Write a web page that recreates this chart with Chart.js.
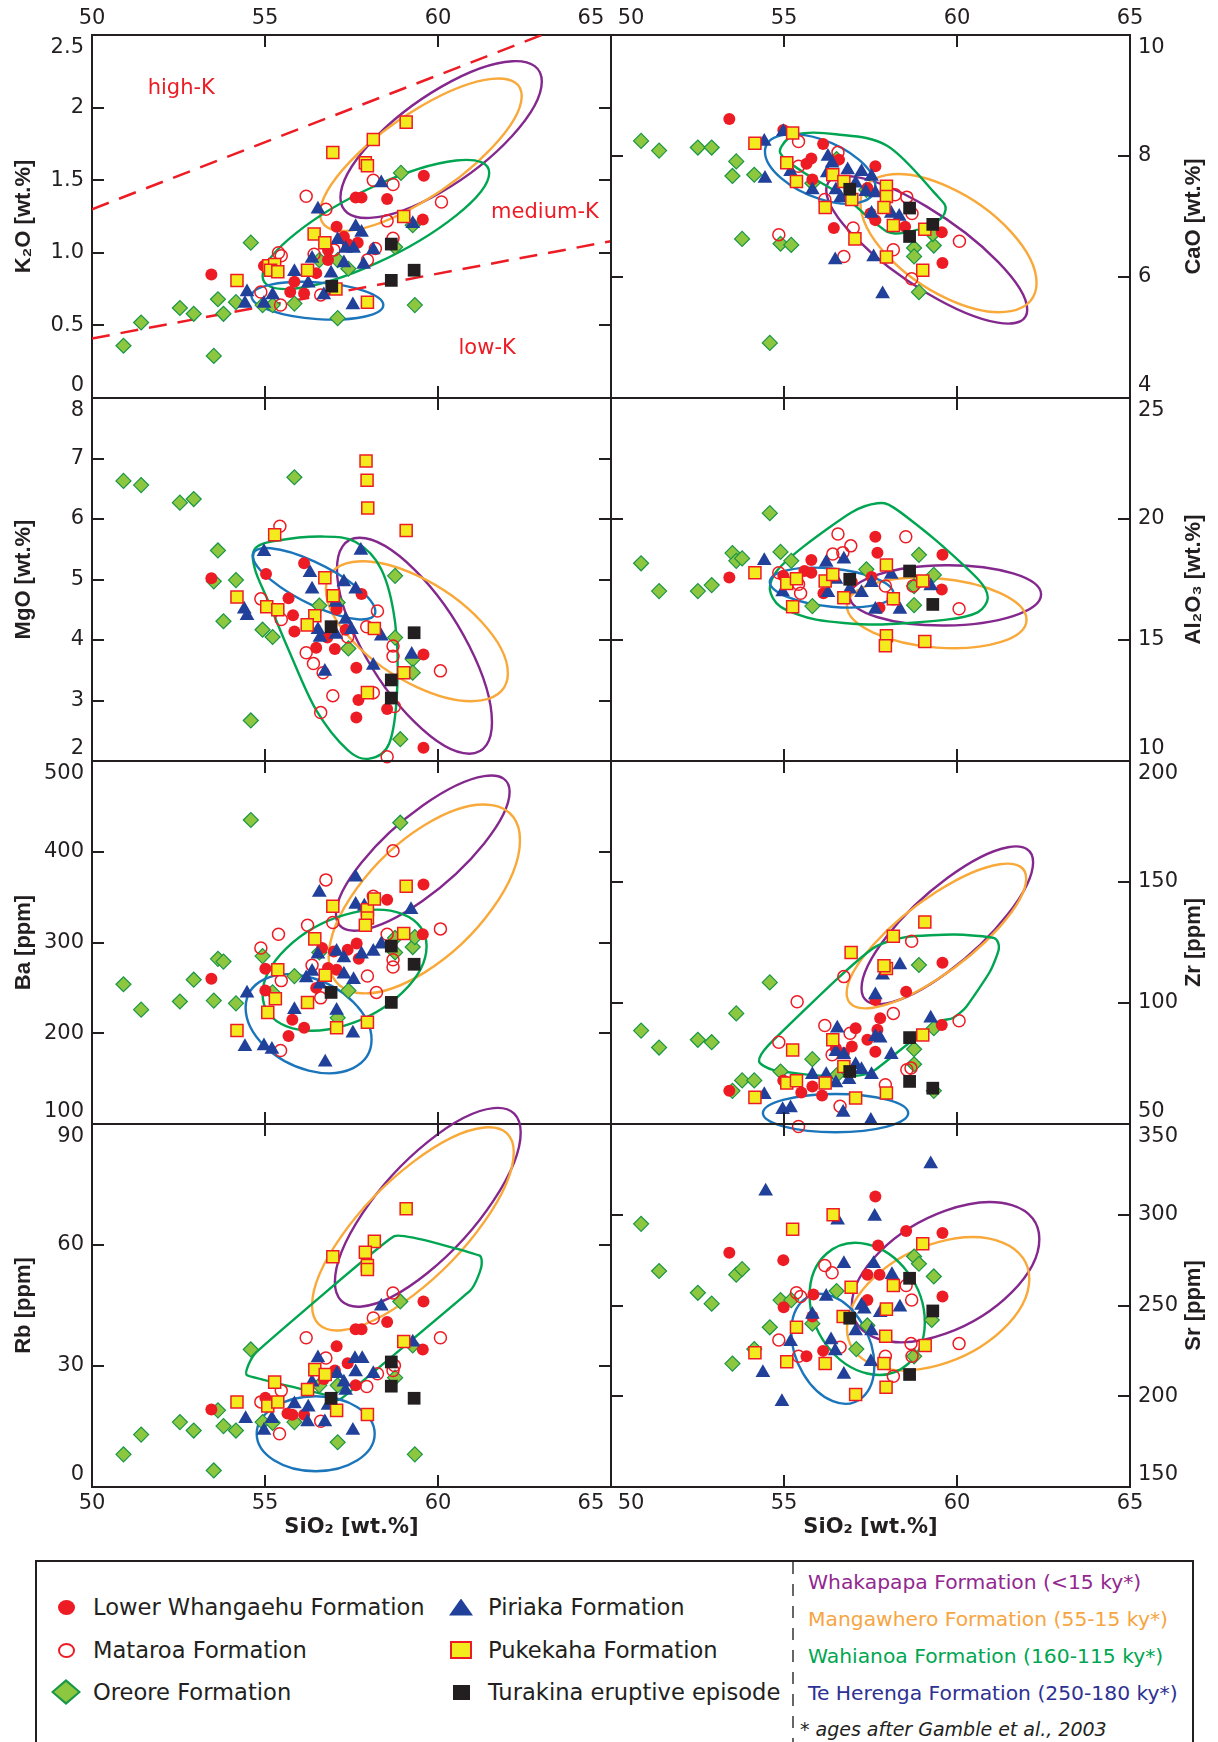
<!DOCTYPE html>
<html lang="en">
<head>
<meta charset="utf-8">
<title>SiO2 variation diagrams</title>
<script src="https://cdn.jsdelivr.net/npm/chart.js@4.4.1/dist/chart.umd.min.js"></script>
<style>
  html, body { margin: 0; padding: 0; background: #fff; overflow: hidden; }
  #figure { position: relative; width: 1218px; height: 1742px; }
  #figure canvas { position: absolute; }
  #legend { position: absolute; left: 35px; top: 1560px; width: 1159px; height: 200px; box-sizing: border-box;
            border: 2px solid #231f20; font-family: 'DejaVu Sans', sans-serif; color: #231f20; }
  .item { position: absolute; display: flex; align-items: center; height: 30px; font-size: 22.6px; white-space: nowrap; }
  .slot { width: 40px; height: 30px; display: flex; align-items: center; justify-content: center; margin-right: 7px; }
  .field { position: absolute; left: 771px; font-size: 20.3px; line-height: 24px; white-space: nowrap; }
  .note { position: absolute; left: 763px; top: 156px; font-size: 19px; font-style: italic; white-space: nowrap; }
  .sep { position: absolute; left: 755px; top: 0; width: 1.5px; height: 100%;
         background: repeating-linear-gradient(to bottom, #666 0 12px, transparent 12px 22px); }
  .dot { width: 17px; height: 15px; border-radius: 50%; background: #ed1c24; }
  .ring { width: 17px; height: 15px; border-radius: 50%; border: 2px solid #ed1c24; box-sizing: border-box; background: #fff; }
  .dia { width: 30px; height: 26px; background: #1a9648; clip-path: polygon(50% 0, 100% 50%, 50% 100%, 0 50%); position: relative; }
  .dia::after { content: ''; position: absolute; left: 3px; top: 3px; right: 3px; bottom: 3px; background: #8dc63f;
                clip-path: polygon(50% 0, 100% 50%, 50% 100%, 0 50%); }
  .tri { width: 24px; height: 17px; background: #21409a; clip-path: polygon(50% 0, 100% 100%, 0 100%); }
  .sq { width: 22px; height: 18px; background: #f4eb1e; border: 2px solid #ed1c24; box-sizing: border-box; }
  .blk { width: 17px; height: 15px; background: #231f20; }
</style>
</head>
<body>
<div id="figure">
  <div id="legend"><div class="sep"></div></div>
</div>
<script>
// Series and outline names
var formations = ['Lower Whangaehu Formation', 'Mataroa Formation', 'Oreore Formation',
                  'Piriaka Formation', 'Pukekaha Formation', 'Turakina eruptive episode'];
var fieldNames = ['Whakapapa Formation (<15 ky*)', 'Mangawhero Formation (55-15 ky*)',
                  'Wahianoa Formation (160-115 ky*)', 'Te Herenga Formation (250-180 ky*)'];
var kZoneNames = ['high-K', 'medium-K', 'low-K'];

// Tick labels
var sio2Ticks = ['50', '55', '60', '65'];
var k2oTicks = ['0', '0.5', '1.0', '1.5', '2', '2.5'];
var caoTicks = ['4', '6', '8', '10'];
var mgoTicks = ['2', '3', '4', '5', '6', '7', '8'];
var alTicks = ['10', '15', '20', '25'];
var baTicks = ['100', '200', '300', '400', '500'];
var zrTicks = ['50', '100', '150', '200'];
var rbTicks = ['0', '30', '60', '90'];
var srTicks = ['150', '200', '250', '300', '350'];

// K2O vs SiO2
var k2oWhangaehu = [[53.45,0.85],[54.97,0.91],[55.73,0.73],[55.85,0.80],[56.13,0.72],[56.48,0.86],[56.82,1.02],[56.82,0.95],[57.07,1.18],[57.28,1.11],[57.39,1.06],[57.68,1.07],[57.62,1.38],[57.79,1.38],[58.53,1.37],[59.59,1.53],[59.56,1.23]];
var k2oMataroa = [[56.19,1.39],[56.76,1.30],[58.13,1.50],[58.70,1.47],[60.10,1.35],[58.53,1.22],[58.70,1.10],[58.19,1.03],[57.96,0.95],[56.99,1.02],[56.42,0.99],[55.39,1.00],[55.47,0.98],[54.88,0.73],[55.45,0.64],[56.61,0.71]];
var k2oOreore = [[50.91,0.36],[51.42,0.52],[52.54,0.62],[52.94,0.58],[53.52,0.29],[53.64,0.68],[53.80,0.58],[54.16,0.66],[54.59,1.07],[54.93,0.64],[55.22,0.64],[55.85,0.65],[56.57,0.95],[57.10,0.95],[57.41,0.89],[57.10,0.55],[58.93,1.55],[58.76,1.04],[59.27,1.19],[59.33,0.64]];
var k2oPiriaka = [[56.53,1.30],[58.36,1.48],[59.27,1.20],[57.62,1.18],[57.79,1.14],[57.10,1.09],[57.33,1.03],[57.56,1.03],[58.13,1.02],[56.36,0.96],[57.28,0.93],[57.85,0.92],[55.85,0.87],[56.91,0.86],[56.25,0.79],[54.48,0.73],[55.22,0.71],[54.42,0.65],[54.97,0.65],[56.70,0.71],[57.54,0.64]];
var k2oPukekaha = [[59.08,1.90],[58.13,1.78],[56.96,1.69],[57.90,1.62],[57.96,1.60],[59.01,1.25],[56.42,1.13],[56.73,1.07],[56.23,0.88],[55.11,0.91],[55.28,0.92],[55.16,0.88],[55.37,0.87],[54.19,0.81],[57.05,0.75],[57.96,0.66]];
var k2oTurakina = [[58.65,1.06],[58.65,0.81],[59.31,0.88],[56.93,0.77]];
// outlines: ellipse = [leftmost x, y, rightmost x, y, top y]; other = list of vertices
var k2oFields = [[57.18,1.38,63.00,2.18,2.32], [56.59,1.27,62.42,2.08,2.20], [54.93,0.84,61.48,1.55,1.64], [54.61,0.70,58.42,0.64,0.80]];
var kBoundaryHigh = [[50, 1.30], [63.0, 2.5]];
var kBoundaryLow = [[50, 0.41], [65, 1.08]];

// CaO vs SiO2
var caoWhangaehu = [[53.42,8.61],[54.98,8.43],[56.13,8.20],[55.79,7.96],[55.65,7.87],[57.64,7.83],[56.59,7.94],[55.82,7.61],[57.41,7.47],[56.44,6.81],[57.64,6.94],[58.50,6.83],[59.56,6.74],[59.58,6.23],[57.50,7.05]];
var caoMataroa = [[55.42,8.24],[56.56,8.06],[55.42,7.83],[56.18,7.28],[58.21,7.36],[58.55,7.32],[58.70,7.05],[57.00,6.81],[54.85,6.70],[58.16,6.45],[56.73,6.34],[60.07,6.59],[58.69,5.97]];
var caoOreore = [[50.87,8.25],[51.39,8.09],[52.51,8.14],[52.91,8.14],[53.62,7.91],[53.51,7.67],[54.14,7.69],[55.82,7.55],[56.52,7.95],[53.79,6.63],[54.90,6.55],[55.21,6.53],[54.59,4.91],[57.38,7.44],[58.76,6.48],[58.76,6.34],[59.33,6.52],[59.30,6.71],[58.90,5.75]];
var caoPiriaka = [[54.43,8.24],[54.98,8.40],[54.45,7.63],[56.27,7.99],[56.39,7.88],[56.25,7.72],[56.84,7.77],[57.24,7.74],[57.53,7.66],[55.19,7.74],[55.82,7.44],[56.50,7.44],[56.64,7.31],[57.07,7.55],[57.64,7.39],[57.53,7.05],[58.10,7.05],[58.33,7.00],[57.36,7.41],[56.48,6.28],[57.59,6.33],[57.85,5.72]];
var caoPukekaha = [[54.16,8.21],[55.25,8.38],[55.08,7.89],[55.36,7.58],[56.41,7.69],[56.73,7.58],[56.96,7.28],[56.19,7.15],[57.96,7.50],[57.96,7.33],[57.89,7.15],[58.16,6.85],[59.07,6.79],[57.05,6.63],[57.96,6.33],[59.01,6.11]];
var caoTurakina = [[56.90,7.45],[58.63,7.14],[59.30,6.87],[58.63,6.67]];
var caoFields = [[56.22,7.44,62.03,5.46,7.67], [57.21,7.22,62.30,5.90,7.70],
  [[54.93,8.16],[55.36,8.36],[56.50,8.36],[57.98,8.17],[59.35,7.39],[59.67,7.11],[59.24,6.86],[58.21,6.72],[57.64,6.89],[56.73,7.33],[55.59,7.72],[54.96,7.99]],
  [54.45,8.07,57.64,7.50,8.36]];

// MgO vs SiO2
var mgoWhangaehu = [[53.45,5.02],[55.03,5.09],[56.13,5.27],[55.68,4.69],[55.81,4.41],[55.85,4.14],[57.07,4.51],[57.79,4.76],[56.48,3.87],[57.02,3.85],[56.80,4.04],[57.33,4.17],[57.64,3.54],[57.70,3.01],[57.64,2.72],[58.53,2.86],[59.58,3.76],[59.58,2.22]];
var mgoMataroa = [[55.43,5.88],[54.88,4.68],[55.47,4.34],[56.19,3.79],[56.40,3.61],[56.68,3.46],[56.96,3.08],[56.61,2.80],[58.25,4.48],[57.94,4.22],[57.39,4.05],[58.70,3.90],[58.70,3.73],[58.13,3.13],[58.74,2.90],[58.53,2.07],[60.07,3.49]];
var mgoOreore = [[50.91,6.63],[51.42,6.56],[52.54,6.27],[52.94,6.33],[55.85,6.69],[53.64,5.48],[53.52,4.97],[54.16,4.99],[53.80,4.31],[54.93,4.17],[55.22,4.05],[54.59,2.67],[56.57,4.57],[57.10,4.62],[57.41,3.86],[58.76,5.06],[58.76,4.04],[59.27,3.68],[59.27,3.46],[58.91,2.36]];
var mgoPiriaka = [[54.97,5.46],[57.77,5.48],[54.40,4.51],[54.48,4.40],[56.30,5.11],[56.36,4.84],[57.28,4.96],[57.62,4.84],[57.05,4.62],[57.33,4.34],[56.53,4.17],[56.59,4.04],[57.05,4.09],[57.50,4.17],[58.36,4.06],[58.13,3.58],[56.73,3.48],[59.24,3.76]];
var mgoPukekaha = [[57.92,6.96],[57.95,6.64],[57.97,6.18],[59.08,5.81],[55.28,5.74],[54.19,4.71],[55.05,4.55],[55.37,4.50],[56.73,5.03],[56.97,4.73],[56.44,4.40],[56.22,4.25],[58.16,4.19],[59.01,3.46],[57.96,3.13]];
var mgoTurakina = [[56.91,4.22],[59.31,4.12],[58.65,3.34],[58.65,3.04]];
var mgoFields = [[57.08,5.17,61.56,2.64,5.69], [56.76,4.84,62.02,3.45,5.30],
  [[54.71,5.51],[55.33,5.64],[56.65,5.71],[57.62,5.62],[58.36,5.17],[58.76,4.29],[58.82,3.18],[58.59,2.29],[58.02,2.04],[57.39,2.18],[56.48,2.84],[55.68,3.84],[55.11,4.62],[54.71,5.17]],
  [54.65,5.39,58.19,4.47,5.52]];

// Al2O3 vs SiO2
var alWhangaehu = [[53.42,17.58],[54.98,17.65],[55.79,18.31],[55.79,17.78],[55.59,17.85],[56.14,16.93],[57.64,19.27],[57.70,18.61],[57.76,16.33],[59.58,18.52],[59.56,17.09],[57.53,17.60],[56.96,17.40]];
var alMataroa = [[56.56,19.38],[56.93,18.89],[56.70,18.61],[56.41,18.55],[58.52,19.27],[55.42,17.30],[55.48,16.93],[54.85,17.78],[57.93,17.23],[58.73,17.23],[58.16,16.70],[60.06,16.29]];
var alOreore = [[50.87,18.17],[51.39,17.02],[52.51,17.02],[52.91,17.27],[53.51,18.59],[53.62,18.27],[53.79,18.37],[54.59,20.24],[54.90,18.64],[55.21,18.27],[55.82,16.40],[57.38,17.92],[58.90,18.52],[58.76,17.23],[59.33,17.69],[58.76,16.44]];
var alPiriaka = [[54.43,18.27],[56.22,18.20],[56.73,18.34],[56.27,16.95],[57.24,16.95],[57.53,17.37],[54.96,16.98],[58.10,17.71],[57.64,16.26],[58.35,16.26],[59.24,17.23],[56.50,17.50],[56.90,17.10]];
var alPukekaha = [[54.16,17.78],[55.08,17.34],[55.36,17.53],[56.19,17.44],[56.41,17.71],[56.73,16.75],[55.25,16.37],[57.96,18.10],[58.16,16.70],[59.01,17.44],[57.96,15.18],[57.93,14.76],[59.07,14.94]];
var alTurakina = [[56.90,17.51],[58.63,17.85],[59.30,16.47]];
var alFields = [[56.90,16.81,62.43,16.88,18.09], [56.82,16.40,62.01,15.84,17.58],
  [[54.59,17.09],[54.79,17.85],[55.59,18.89],[56.96,20.28],[57.70,20.65],[58.16,20.48],[59.35,19.17],[60.61,17.51],[60.89,16.75],[60.61,16.15],[59.70,15.84],[57.64,15.64],[55.93,15.84],[54.90,16.37]],
  [54.59,17.40,58.16,16.93,17.99]];

// Ba vs SiO2
var baWhangaehu = [[53.45,260],[55.01,271],[55.01,247],[55.79,215],[56.13,206],[55.68,197],[56.65,294],[56.48,250],[56.82,272],[57.07,270],[57.39,292],[57.65,299],[56.99,290],[57.71,282],[58.53,347],[59.58,364],[59.56,309]];
var baMataroa = [[56.76,369],[55.39,309],[54.88,294],[56.23,319],[56.96,322],[56.36,275],[55.47,258],[56.61,239],[55.45,181],[58.13,351],[58.70,401],[57.96,263],[58.22,245],[58.53,309],[58.70,281],[58.70,273],[60.07,315]];
var baOreore = [[50.91,254],[51.42,226],[52.54,235],[52.94,259],[53.52,236],[53.64,282],[53.80,279],[54.16,233],[54.59,435],[54.93,285],[55.22,245],[55.85,263],[56.57,289],[57.10,217],[57.41,247],[58.91,432],[58.76,305],[58.76,289],[59.27,295],[59.33,306]];
var baPiriaka = [[54.48,244],[54.42,185],[54.97,186],[55.20,182],[55.85,226],[56.74,168],[57.54,200],[57.07,225],[56.57,355],[57.62,372],[57.62,342],[57.87,340],[59.22,336],[58.36,298],[58.13,290],[57.79,287],[57.07,290],[57.28,283],[56.53,287],[56.36,268],[56.19,261],[56.59,254],[57.28,265],[57.56,259]];
var baPukekaha = [[54.19,203],[55.08,223],[55.30,238],[55.37,270],[56.23,234],[56.44,304],[56.74,264],[57.07,206],[57.96,212],[56.96,340],[57.96,336],[57.96,327],[57.90,319],[58.16,348],[59.08,362],[59.01,310]];
var baTurakina = [[56.91,245],[58.65,296],[59.31,276],[58.65,234]];
var baFields = [[57.05,331,62.07,466,484], [56.84,283,62.37,413,452], [54.93,243,59.67,296,336], [54.44,228,58.08,193,265]];

// Zr vs SiO2
var zrWhangaehu = [[53.42,63.7],[55.82,65.5],[56.10,61.8],[55.50,63.0],[56.50,81.3],[57.07,89.6],[56.96,82.0],[57.41,84.8],[57.64,79.9],[57.70,88.9],[57.78,93.7],[56.73,79.3],[57.64,101.2],[58.53,104.7],[59.58,116.6],[59.56,90.9],[54.98,68.0]];
var zrMataroa = [[54.85,83.8],[55.38,100.5],[56.18,90.7],[56.91,87.5],[56.73,110.9],[56.39,78.6],[58.16,95.7],[58.69,125.5],[60.06,92.7],[58.55,72.4],[58.67,73.1],[56.62,57.3],[55.42,49.0],[57.93,66.2]];
var zrOreore = [[50.87,88.6],[51.39,81.6],[52.51,84.8],[52.91,83.8],[53.51,63.7],[53.79,68.0],[54.14,68.0],[53.62,95.7],[54.59,108.5],[54.90,71.7],[55.82,76.8],[56.52,70.1],[58.90,115.7],[58.76,80.9],[58.76,74.7],[59.33,89.6],[59.33,63.7]];
var zrPiriaka = [[54.43,62.1],[54.96,55.9],[55.19,56.6],[56.71,54.8],[57.51,51.4],[55.82,70.3],[56.22,70.3],[56.50,79.9],[56.73,78.6],[56.54,89.6],[57.07,74.5],[57.24,72.4],[57.53,70.3],[56.88,68.3],[56.50,66.9],[57.64,86.1],[57.78,85.4],[58.10,78.6],[57.64,103.3],[57.85,111.5],[58.35,115.7],[59.24,93.7]];
var zrPukekaha = [[54.16,61.0],[55.08,66.9],[55.36,67.9],[56.19,66.9],[55.25,80.6],[56.41,84.8],[56.73,73.8],[57.07,60.7],[56.94,120.9],[57.96,114.3],[57.89,115.4],[58.16,127.6],[59.07,133.5],[59.01,86.8],[57.96,62.8]];
var zrTurakina = [[56.90,71.7],[58.63,85.7],[58.63,67.6],[59.30,64.8]];
var zrFields = [[57.24,106.0,62.20,158.2,164.7], [56.81,104.0,62.00,151.4,157.6],
  [[54.28,75.8],[54.56,82.7],[56.50,109.5],[57.64,123.2],[58.55,127.3],[59.92,128.3],[61.06,126.9],[61.21,122.5],[60.95,112.9],[60.27,98.5],[59.87,93.7],[59.47,92.3],[58.67,84.1],[57.64,72.4],[57.19,70.1],[55.93,70.1],[54.68,72.4]],
  [54.39,54.5,58.59,54.5,62.4]];

// Rb vs SiO2
var rbWhangaehu = [[53.45,19.2],[55.01,22.1],[55.65,18.2],[55.79,17.9],[56.13,17.9],[57.07,34.9],[57.02,28.9],[57.39,30.7],[57.62,39.1],[57.79,39.1],[58.53,40.9],[59.58,46.0],[59.56,34.1],[57.62,25.2],[56.70,26.8]];
var rbMataroa = [[56.19,37.0],[56.76,32.0],[56.48,26.8],[55.47,23.9],[54.88,21.1],[55.42,13.2],[56.61,16.3],[58.13,41.9],[58.70,48.1],[60.07,37.0],[58.74,30.1],[58.70,28.9],[58.25,28.1],[57.94,24.9]];
var rbOreore = [[50.91,8.1],[51.42,13.0],[52.54,16.1],[52.94,14.0],[53.52,4.1],[53.64,19.0],[53.80,15.1],[54.16,14.0],[54.59,34.1],[54.93,16.1],[55.22,15.9],[55.85,16.1],[56.57,25.2],[57.10,11.1],[57.10,25.2],[58.91,46.0],[58.76,27.1],[59.27,35.1],[59.33,8.1]];
var rbPiriaka = [[54.44,16.9],[54.97,14.0],[55.20,16.9],[55.85,20.6],[56.25,19.8],[56.23,16.1],[56.73,16.1],[57.54,14.0],[56.53,32.0],[56.36,26.0],[57.08,28.1],[57.28,26.0],[57.33,23.9],[57.60,31.8],[57.81,31.8],[57.62,28.5],[58.13,28.1],[58.36,44.8],[59.27,35.9],[56.82,20.2]];
var rbPukekaha = [[59.08,69.0],[58.16,60.9],[57.90,58.2],[57.96,54.9],[57.96,53.9],[56.96,57.1],[59.01,36.1],[56.44,29.1],[56.74,27.9],[55.28,26.0],[56.23,24.2],[54.19,21.1],[55.08,20.1],[55.37,21.1],[57.07,19.0],[57.96,18.0]];
var rbTurakina = [[58.65,31.0],[56.91,22.0],[58.65,25.0],[59.31,22.0]];
var rbFields = [[57.02,50.8,62.39,87.9,94.0], [56.36,45.0,62.19,83.0,89.2],
  [[54.48,27.7],[54.76,33.5],[58.74,62.2],[61.19,57.4],[61.25,54.5],[60.93,48.7],[57.22,22.0],[56.93,22.5]],
  [54.76,13.2,58.17,13.2,22.5]];

// Sr vs SiO2
var srWhangaehu = [[53.42,279],[54.98,275],[54.99,249],[55.82,244],[55.85,256],[55.65,222],[56.13,225],[57.64,310],[57.72,283],[57.41,267],[57.76,267],[57.41,253],[58.53,291],[59.58,290],[59.58,255]];
var srMataroa = [[55.36,257],[55.48,255],[56.18,272],[56.39,268],[54.85,231],[55.42,222],[56.62,227],[57.93,222],[58.16,211],[58.53,261],[58.69,253],[58.67,229],[58.70,222],[60.06,229]];
var srOreore = [[50.87,295],[51.39,269],[52.51,257],[52.91,251],[53.62,267],[53.79,270],[53.51,218],[54.14,226],[54.59,238],[54.90,253],[55.21,253],[55.82,240],[56.52,258],[57.09,226],[57.41,239],[58.76,277],[58.90,273],[59.33,266],[59.27,242],[58.76,222]];
var srPiriaka = [[54.47,313],[59.24,328],[56.55,297],[57.62,299],[56.73,273],[57.59,273],[58.12,267],[56.22,255],[55.82,245],[55.19,230],[56.36,231],[56.48,225],[54.39,213],[54.94,197],[56.73,212],[57.07,236],[57.24,250],[57.32,248],[57.78,246],[58.35,249],[57.53,236],[57.51,219]];
var srPukekaha = [[56.42,300],[55.25,292],[59.01,284],[56.94,260],[58.16,261],[57.96,248],[56.71,244],[55.36,238],[54.16,224],[55.08,219],[56.19,218],[57.94,233],[57.89,218],[59.08,228],[57.95,205],[57.07,201]];
var srTurakina = [[58.63,265],[59.30,247],[56.90,243],[58.63,212]];
var srFields = [[56.96,250.0,62.38,286.7,306.9], [56.82,237.2,62.09,264.7,287.6], [55.74,255.5,59.07,240.8,284.5], [55.21,235.3,57.61,217.0,256.4]];

// Styles and layout
var INK = '#231f20';
var RED = '#ed1c24';
var fieldColors = ['#84288d', '#f9a83a', '#00a551', '#1b75bb'];
var fieldTextColors = ['#92278f', '#f7a541', '#00a651', '#2e3192'];
var markerStyles = [
  { shape: 'circle', radius: 6, fill: RED, line: RED, width: 0, order: 5 },
  { shape: 'circle', radius: 6, fill: 'rgba(255,255,255,0)', line: RED, width: 1.5, order: 4 },
  { shape: 'rectRot', radius: 7.5, fill: '#8dc63f', line: '#1a9648', width: 1.2, order: 6 },
  { shape: 'triangle', radius: 8.5, fill: '#21409a', line: '#21409a', width: 0, order: 3 },
  { shape: 'rect', radius: 8.5, fill: '#f4eb1e', line: RED, width: 1.5, order: 2 },
  { shape: 'rect', radius: 9, fill: INK, line: INK, width: 0, order: 1 }
];
var legendSymbols = ['dot', 'ring', 'dia', 'tri', 'sq', 'blk'];

var PLOT_LEFT = [92, 611];
var PLOT_TOP = [35, 398, 761, 1124];
var PLOT_W = 519, PLOT_H = 363, MARGIN = 90;
var SHIFT = '\u00a0\u00a0\u00a0\u00a0\u00a0\u00a0';
var tickFont = { family: 'DejaVu Sans', size: 21 };

Chart.defaults.font.family = 'DejaVu Sans';
Chart.defaults.color = INK;

var panels = [
  { row: 0, col: 0, ticks: k2oTicks, title: 'K₂O [wt.%]', fields: k2oFields, smooth: 0,
    series: [k2oWhangaehu, k2oMataroa, k2oOreore, k2oPiriaka, k2oPukekaha, k2oTurakina],
    boundaries: [kBoundaryHigh, kBoundaryLow],
    zones: { names: kZoneNames, at: [[52.58, 2.13], [63.09, 1.28], [61.42, 0.34]] } },
  { row: 0, col: 1, ticks: caoTicks, title: 'CaO [wt.%]', fields: caoFields, smooth: 1,
    series: [caoWhangaehu, caoMataroa, caoOreore, caoPiriaka, caoPukekaha, caoTurakina] },
  { row: 1, col: 0, ticks: mgoTicks, title: 'MgO [wt.%]', fields: mgoFields, smooth: 1,
    series: [mgoWhangaehu, mgoMataroa, mgoOreore, mgoPiriaka, mgoPukekaha, mgoTurakina] },
  { row: 1, col: 1, ticks: alTicks, title: 'Al₂O₃ [wt.%]', fields: alFields, smooth: 0.8,
    series: [alWhangaehu, alMataroa, alOreore, alPiriaka, alPukekaha, alTurakina] },
  { row: 2, col: 0, ticks: baTicks, title: 'Ba [ppm]', fields: baFields, smooth: 0,
    series: [baWhangaehu, baMataroa, baOreore, baPiriaka, baPukekaha, baTurakina] },
  { row: 2, col: 1, ticks: zrTicks, title: 'Zr [ppm]', fields: zrFields, smooth: 0.6,
    series: [zrWhangaehu, zrMataroa, zrOreore, zrPiriaka, zrPukekaha, zrTurakina] },
  { row: 3, col: 0, ticks: rbTicks, title: 'Rb [ppm]', fields: rbFields, smooth: 0.25,
    series: [rbWhangaehu, rbMataroa, rbOreore, rbPiriaka, rbPukekaha, rbTurakina] },
  { row: 3, col: 1, ticks: srTicks, title: 'Sr [ppm]', fields: srFields, smooth: 0,
    series: [srWhangaehu, srMataroa, srOreore, srPiriaka, srPukekaha, srTurakina] }
];

// Outline helpers: ellipse from leftmost/rightmost point and top, or closed spline through vertices
function traceEllipse(ctx, left, right, topY) {
  var cx = (left.x + right.x) / 2, cy = (left.y + right.y) / 2;
  var ax = right.x - cx, ay = right.y - cy;
  var h = cy - topY;
  var by = Math.sqrt(Math.max(h * h - ay * ay, 1));
  ctx.save();
  ctx.transform(ax, ay, 0, by, cx, cy);
  ctx.moveTo(1, 0);
  ctx.arc(0, 0, 1, 0, 2 * Math.PI);
  ctx.restore();
}

function traceOutline(ctx, pts, smooth) {
  var n = pts.length, k = smooth / 6;
  ctx.moveTo(pts[0].x, pts[0].y);
  for (var i = 0; i < n; i++) {
    var p0 = pts[(i + n - 1) % n], p1 = pts[i], p2 = pts[(i + 1) % n], p3 = pts[(i + 2) % n];
    ctx.bezierCurveTo(p1.x + (p2.x - p0.x) * k, p1.y + (p2.y - p0.y) * k,
                      p2.x - (p3.x - p1.x) * k, p2.y - (p3.y - p1.y) * k, p2.x, p2.y);
  }
  ctx.closePath();
}

// Short tick marks pointing into each panel
var innerTicks = {
  id: 'innerTicks',
  afterDatasetsDraw: function (chart) {
    var ctx = chart.ctx, area = chart.chartArea, len = 12;
    var xs = chart.scales.x, ys = chart.scales.y;
    ctx.save();
    ctx.strokeStyle = INK;
    ctx.lineWidth = 2;
    ctx.beginPath();
    xs.ticks.slice(1, -1).forEach(function (t) {
      var px = Math.round(xs.getPixelForValue(t.value));
      ctx.moveTo(px, area.top); ctx.lineTo(px, area.top + len);
      ctx.moveTo(px, area.bottom); ctx.lineTo(px, area.bottom - len);
    });
    ys.ticks.slice(1, -1).forEach(function (t) {
      var py = Math.round(ys.getPixelForValue(t.value));
      ctx.moveTo(area.left, py); ctx.lineTo(area.left + len, py);
      ctx.moveTo(area.right, py); ctx.lineTo(area.right - len, py);
    });
    ctx.stroke();
    ctx.restore();
  }
};

// Formation fields (ellipses and outlines), drawn under the markers
function fieldLayer(p) {
  return {
    id: 'fieldLayer',
    beforeDatasetsDraw: function (chart) {
      var ctx = chart.ctx, xs = chart.scales.x, ys = chart.scales.y;
      function toPx(pt) { return { x: xs.getPixelForValue(pt[0]), y: ys.getPixelForValue(pt[1]) }; }
      ctx.save();
      ctx.lineWidth = 2.4;
      ctx.lineJoin = 'round';
      p.fields.forEach(function (field, i) {
        ctx.strokeStyle = fieldColors[i];
        ctx.beginPath();
        if (Array.isArray(field[0])) {
          traceOutline(ctx, field.map(toPx), p.smooth);
        } else {
          traceEllipse(ctx, toPx([field[0], field[1]]), toPx([field[2], field[3]]), ys.getPixelForValue(field[4]));
        }
        ctx.stroke();
      });
      ctx.restore();
    }
  };
}

// Right-hand axis titles (reading upwards) and the K-series zone names
function panelText(p) {
  return {
    id: 'panelText',
    afterDraw: function (chart) {
      var ctx = chart.ctx, area = chart.chartArea;
      ctx.save();
      if (p.col === 1) {
        ctx.translate(area.right + 64, (area.top + area.bottom) / 2);
        ctx.rotate(-Math.PI / 2);
        ctx.font = 'bold 22px "Liberation Sans"';
        ctx.fillStyle = INK;
        ctx.textAlign = 'center';
        ctx.textBaseline = 'middle';
        ctx.fillText(p.title, 0, 0);
        ctx.setTransform(1, 0, 0, 1, 0, 0);
      }
      if (p.zones) {
        ctx.font = '21px "DejaVu Sans"';
        ctx.fillStyle = RED;
        ctx.textAlign = 'center';
        ctx.textBaseline = 'middle';
        p.zones.names.forEach(function (name, i) {
          var at = p.zones.at[i];
          ctx.fillText(name, chart.scales.x.getPixelForValue(at[0]), chart.scales.y.getPixelForValue(at[1]));
        });
      }
      ctx.restore();
    }
  };
}

function sio2Axis(position, showLabels, col) {
  var values = sio2Ticks.map(Number), last = values.length - 1;
  return {
    type: 'linear', position: position, min: values[0], max: values[last],
    afterFit: function (scale) { scale.height = MARGIN; },
    grid: { display: false, drawTicks: false },
    border: { display: true, color: INK, width: 2 },
    ticks: {
      display: showLabels, stepSize: values[1] - values[0], autoSkip: false, maxRotation: 0,
      padding: 4, color: INK, font: tickFont,
      callback: function (value) {
        var i = values.indexOf(value);
        if (i < 0) return '';
        if (col === 0 && i === last) return sio2Ticks[i] + SHIFT;
        if (col === 1 && i === 0) return SHIFT + sio2Ticks[i];
        return sio2Ticks[i];
      }
    },
    title: {
      display: position === 'bottom' && showLabels, text: 'SiO₂ [wt.%]', color: INK,
      font: { family: 'DejaVu Sans', weight: 'bold', size: 21 }, padding: { top: 0, bottom: 37 }
    }
  };
}

function valueAxis(position, showLabels, p) {
  var values = p.ticks.map(Number), last = values.length - 1;
  return {
    type: 'linear', position: position, min: values[0], max: values[last],
    afterFit: function (scale) { scale.width = MARGIN; },
    grid: { display: false, drawTicks: false },
    border: { display: true, color: INK, width: 2 },
    ticks: {
      display: showLabels, stepSize: values[1] - values[0], autoSkip: false,
      padding: position === 'left' ? 8 : 8, color: INK, font: tickFont,
      callback: function (value) {
        var i = values.findIndex(function (v) { return Math.abs(v - value) < 1e-6; });
        if (i < 0) return '';
        // end labels sit inside the panel, as in the printed figure
        if (i === 0) return [p.ticks[i], ''];
        if (i === last) return ['', p.ticks[i]];
        return p.ticks[i];
      }
    },
    title: {
      display: position === 'left' && showLabels, text: p.title, color: INK,
      font: { family: 'Liberation Sans', weight: 'bold', size: 22 }, padding: { top: 9, bottom: 0 }
    }
  };
}

function buildDatasets(p) {
  var sets = p.series.map(function (points, i) {
    var m = markerStyles[i];
    return {
      label: formations[i],
      data: points.map(function (d) { return { x: d[0], y: d[1] }; }),
      pointStyle: m.shape,
      pointRadius: m.radius,
      pointHoverRadius: m.radius,
      pointBackgroundColor: m.fill,
      pointBorderColor: m.line,
      pointBorderWidth: m.width,
      order: m.order,
      clip: false
    };
  });
  (p.boundaries || []).forEach(function (line) {
    sets.push({
      label: 'K boundary',
      data: line.map(function (d) { return { x: d[0], y: d[1] }; }),
      showLine: true, pointRadius: 0, borderColor: RED, borderWidth: 2.5,
      borderDash: [18, 11], order: 10
    });
  });
  return sets;
}

// One chart per panel, each canvas placed so its plot area lands on the grid
var figure = document.getElementById('figure');
panels.forEach(function (p) {
  var canvas = document.createElement('canvas');
  canvas.width = PLOT_W + 2 * MARGIN;
  canvas.height = PLOT_H + 2 * MARGIN;
  canvas.style.left = (PLOT_LEFT[p.col] - MARGIN) + 'px';
  canvas.style.top = (PLOT_TOP[p.row] - MARGIN) + 'px';
  figure.appendChild(canvas);

  new Chart(canvas.getContext('2d'), {
    type: 'scatter',
    data: { datasets: buildDatasets(p) },
    options: {
      responsive: false,
      animation: false,
      devicePixelRatio: 1,
      events: [],
      layout: { padding: 0 },
      plugins: { legend: { display: false }, tooltip: { enabled: false } },
      scales: {
        x: sio2Axis('bottom', p.row === 3, p.col),
        xTop: sio2Axis('top', p.row === 0, p.col),
        y: valueAxis('left', p.col === 0, p),
        yRight: valueAxis('right', p.col === 1, p)
      }
    },
    plugins: [innerTicks, fieldLayer(p), panelText(p)]
  });
});

// Legend box
var legendBox = document.getElementById('legend');
formations.forEach(function (name, i) {
  var item = document.createElement('div');
  item.className = 'item';
  item.style.left = (i < 3 ? 9 : 404) + 'px';
  item.style.top = [30, 73, 115][i % 3] + 'px';
  item.innerHTML = '<span class="slot"><span class="' + legendSymbols[i] + '"></span></span>';
  item.appendChild(document.createTextNode(name));
  legendBox.appendChild(item);
});
fieldNames.forEach(function (name, i) {
  var line = document.createElement('div');
  line.className = 'field';
  line.style.top = (8 + 37 * i) + 'px';
  line.style.color = fieldTextColors[i];
  line.textContent = name;
  legendBox.appendChild(line);
});
var note = document.createElement('div');
note.className = 'note';
note.textContent = '* ages after Gamble et al., 2003';
legendBox.appendChild(note);
</script>
</body>
</html>
